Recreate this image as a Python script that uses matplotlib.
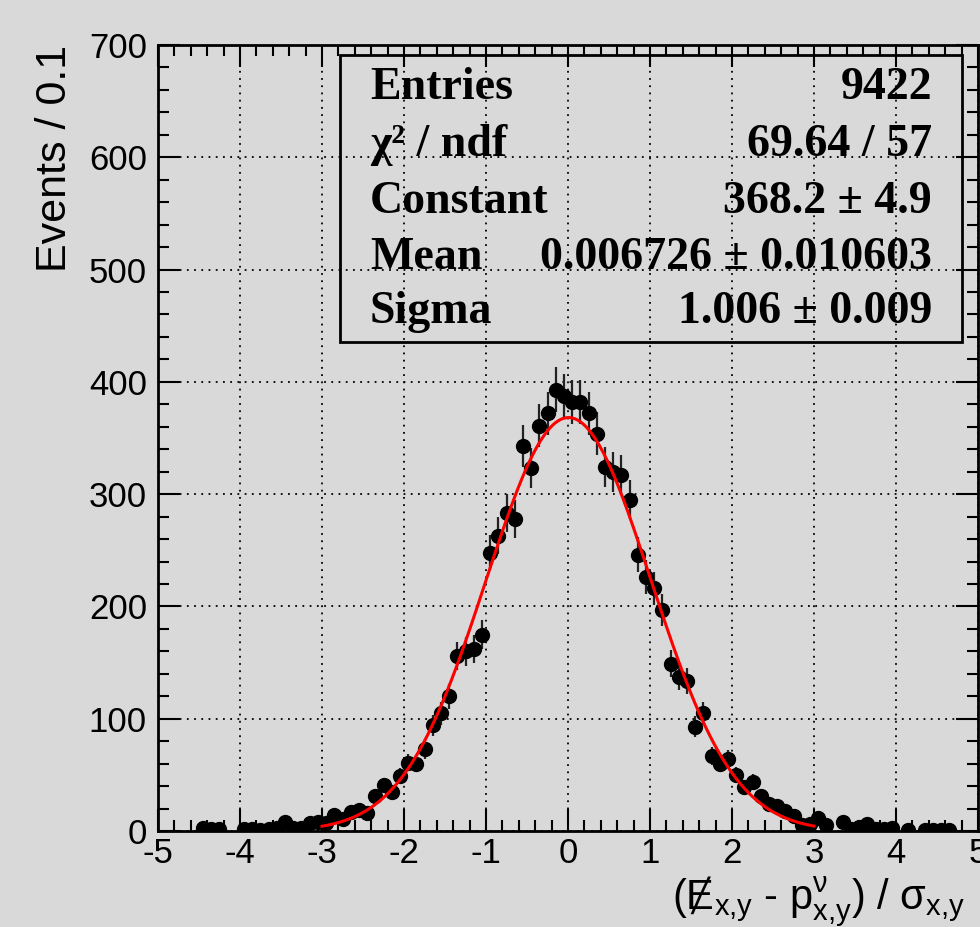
"""Pull distribution of the missing-ET residual with a Gaussian fit (ROOT style)."""

import numpy as np
import matplotlib
matplotlib.use("Agg")
import matplotlib.pyplot as plt
from matplotlib.patches import Rectangle
from matplotlib.ticker import MultipleLocator

# histogram contents, bins of width 0.1 starting at centre -4.45
first_center = -4.45
bin_width = 0.1
counts = [
    3, 2, 2, 0, 0, 2, 2, 1, 2, 3,
    8, 3, 3, 7, 8, 7, 14, 11, 17, 19,
    16, 31, 41, 35, 49, 61, 60, 73, 94, 105,
    120, 156, 160, 162, 175, 248, 263, 283, 278, 343,
    323, 361, 372, 393, 387, 382, 382, 372, 354, 324,
    320, 317, 295, 246, 226, 216, 197, 149, 137, 134,
    93, 105, 67, 60, 64, 50, 39, 44, 31, 24,
    22, 18, 13, 5, 6, 12, 5, 0, 8, 2,
    4, 6, 2, 2, 3, 0, 1, 0, 1, 1,
    1, 1,
]

# fit results
fit_const = 368.2
fit_mean = 0.006726
fit_sigma = 1.006
fit_range = (-3.0, 3.0)

stats_labels = ["Entries", "χ² / ndf", "Constant", "Mean", "Sigma"]
stats_values = ["9422", "69.64 / 57", "368.2 ± 4.9", "0.006726 ± 0.010603", "1.006 ± 0.009"]

BG = "#d9d9d9"
W, H = 980, 927

plt.rcParams["font.family"] = ["Liberation Sans", "DejaVu Sans"]
plt.rcParams["axes.unicode_minus"] = False
plt.rcParams["mathtext.fontset"] = "custom"
plt.rcParams["mathtext.rm"] = "Liberation Sans"
plt.rcParams["mathtext.it"] = "Liberation Sans"
plt.rcParams["mathtext.bf"] = "Liberation Sans:bold"

fig = plt.figure(figsize=(W / 100, H / 100), dpi=100, facecolor=BG)
ax = fig.add_axes([158 / W, 1 - 831 / H, (978 - 158) / W, (831 - 45) / H])
ax.set_facecolor(BG)

counts = np.array(counts, dtype=float)
centers = first_center + bin_width * np.arange(len(counts))
filled = counts > 0

ax.errorbar(centers[filled], counts[filled], yerr=np.sqrt(counts[filled]),
            fmt="o", color="black", ecolor="#222222", ms=10, elinewidth=1.6,
            capsize=0, zorder=3)

xf = np.linspace(fit_range[0], fit_range[1], 400)
yf = fit_const * np.exp(-0.5 * ((xf - fit_mean) / fit_sigma) ** 2)
ax.plot(xf, yf, color="red", lw=2.2, zorder=4)

ax.set_xlim(-5, 5)
ax.set_ylim(0, 700)
ax.xaxis.set_major_locator(MultipleLocator(1))
ax.xaxis.set_minor_locator(MultipleLocator(0.2))
ax.yaxis.set_major_locator(MultipleLocator(100))
ax.yaxis.set_minor_locator(MultipleLocator(20))
ax.tick_params(which="both", direction="in", top=True, right=True, width=1.5,
               labelsize=25, colors="black")
ax.tick_params(which="major", length=16)
ax.tick_params(which="minor", length=8)
ax.tick_params(axis="x", pad=4)
ax.tick_params(axis="y", pad=8)
for s in ax.spines.values():
    s.set_linewidth(2)
ax.grid(True, which="major", color="black", linestyle=(0, (1, 3)), lw=1.3)
ax.set_axisbelow(True)

# axis titles
fig.text(55 / W, 1 - 45 / H, "Events / 0.1", rotation=90, ha="center", va="top",
         fontsize=31)
fig.text(672 / W, 1 - 902 / H,
         r"(Ɇ$_{\mathregular{x{,}y}}$ - p$^{\nu}_{\mathregular{x{,}y}}$) / σ$_{\mathregular{x{,}y}}$",
         ha="left", va="center", fontsize=30)

# stats box
box = Rectangle((340 / W, 1 - 342 / H), (962 - 340) / W, (342 - 55) / H,
                transform=fig.transFigure, fill=False, edgecolor="black", lw=2, zorder=5)
fig.patches.append(box)
row_y = [88, 145, 202, 258, 312]
for lab, val, yy in zip(stats_labels, stats_values, row_y):
    fig.text(370 / W, 1 - yy / H, lab, ha="left", va="center", fontsize=33,
             fontweight="bold", family=["Liberation Serif", "DejaVu Serif"])
    fig.text(932 / W, 1 - yy / H, val, ha="right", va="center", fontsize=33,
             fontweight="bold", family=["Liberation Serif", "DejaVu Serif"])

fig.savefig("out.png", dpi=100, facecolor=BG)
